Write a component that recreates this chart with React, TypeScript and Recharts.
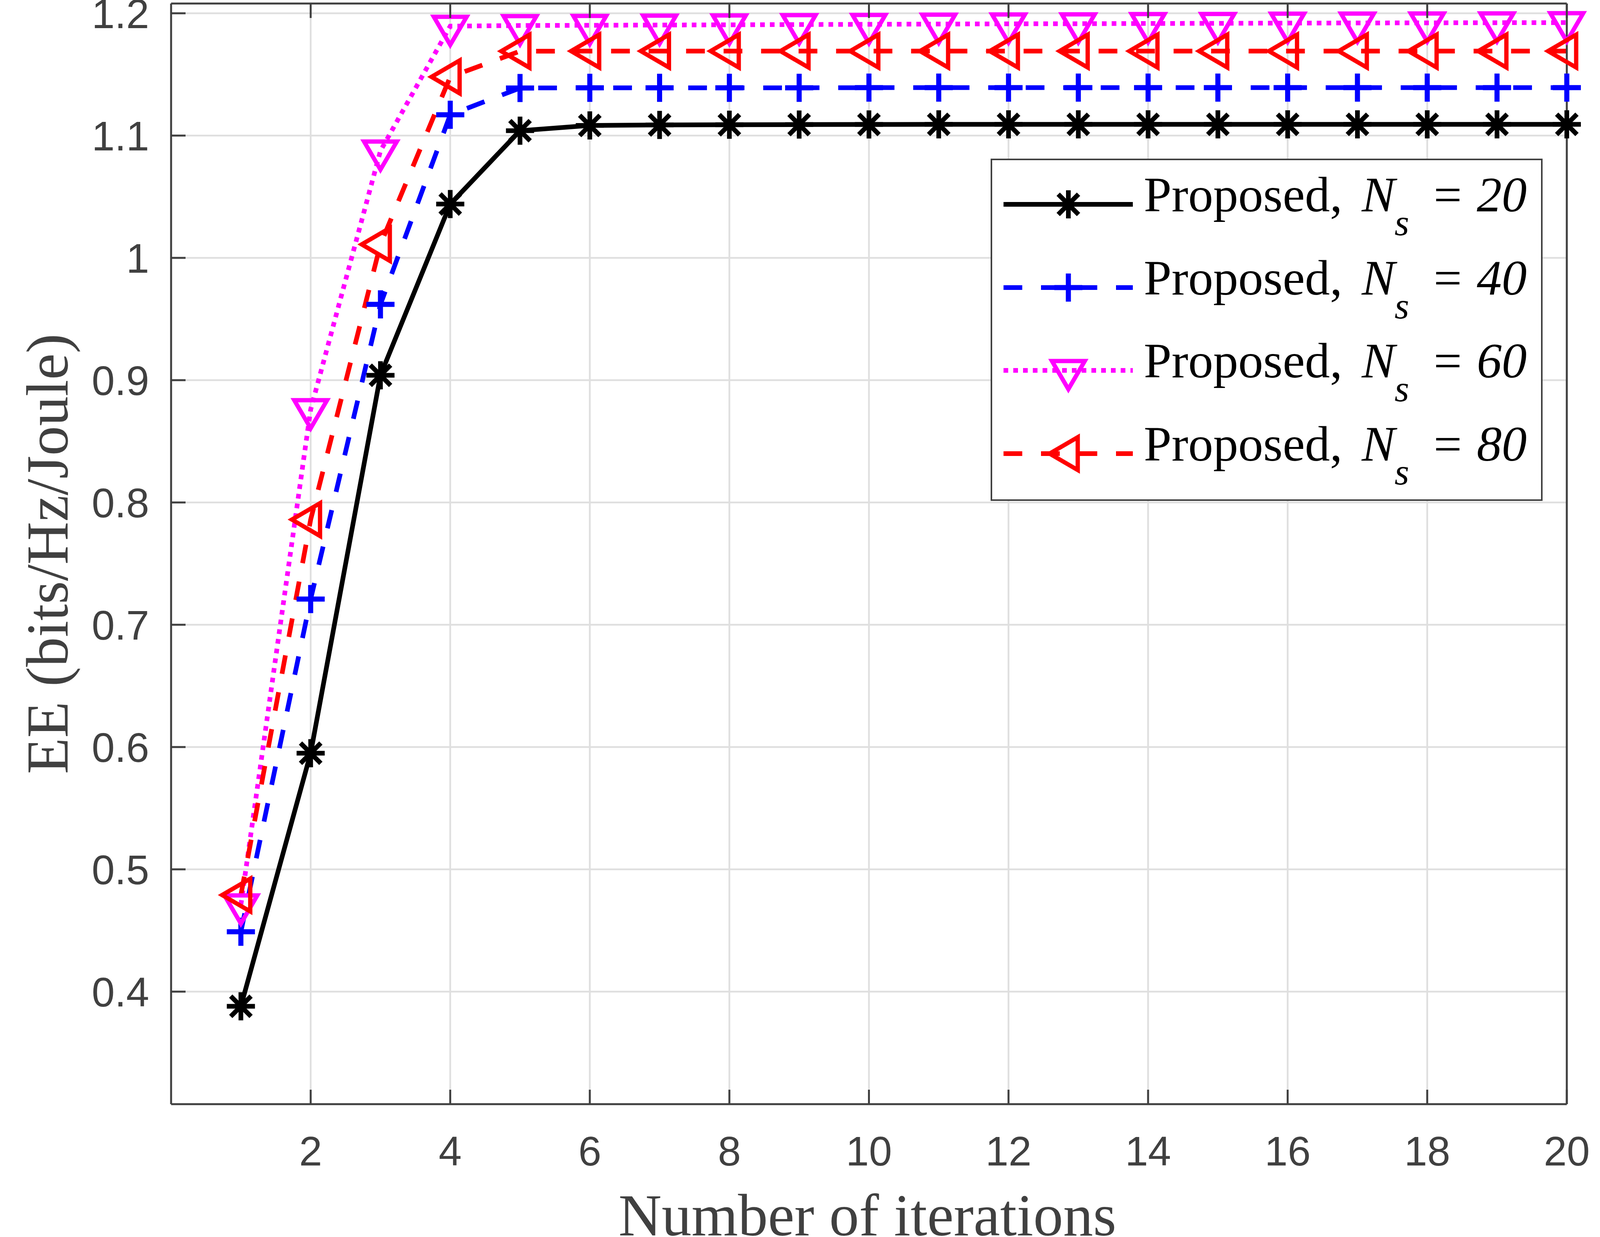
import React from 'react';
import { LineChart, Line, XAxis, YAxis, CartesianGrid, Legend } from 'recharts';

const iterations = [1, 2, 3, 4, 5, 6, 7, 8, 9, 10, 11, 12, 13, 14, 15, 16, 17, 18, 19, 20];
const eeNs20 = [0.388, 0.595, 0.904, 1.044, 1.104, 1.1083, 1.1087, 1.1089, 1.109, 1.1091, 1.1092, 1.1092, 1.1092, 1.1092, 1.1092, 1.1092, 1.1092, 1.1092, 1.1092, 1.1092];
const eeNs40 = [0.449, 0.721, 0.962, 1.117, 1.1389, 1.1391, 1.1391, 1.1391, 1.1391, 1.1392, 1.1392, 1.1392, 1.1392, 1.1392, 1.1392, 1.1392, 1.1392, 1.1392, 1.1392, 1.1392];
const eeNs60 = [0.471, 0.876, 1.0875, 1.1895, 1.19, 1.1902, 1.1904, 1.1906, 1.1908, 1.191, 1.1912, 1.1914, 1.1915, 1.1917, 1.1918, 1.192, 1.1921, 1.1922, 1.1923, 1.1924];
const eeNs80 = [0.479, 0.786, 1.011, 1.148, 1.169, 1.1691, 1.1691, 1.1691, 1.1691, 1.1691, 1.1691, 1.1691, 1.1691, 1.1691, 1.1691, 1.1691, 1.1691, 1.1691, 1.1691, 1.1691];

const xTicks = [2, 4, 6, 8, 10, 12, 14, 16, 18, 20];
const yTicks = [0.4, 0.5, 0.6, 0.7, 0.8, 0.9, 1, 1.1, 1.2];
const nsValues = [20, 40, 60, 80];

const seriesKeys = ['ns20', 'ns40', 'ns60', 'ns80'];
const seriesColors = ['#000000', '#0000FF', '#FF00FF', '#FF0000'];
const seriesDash = [undefined, '48 48', '12 13', '48 48'];
const seriesMarkers = ['asterisk', 'plus', 'triDown', 'triLeft'];

const data = iterations.map((it, i) => ({
  it,
  ns20: eeNs20[i],
  ns40: eeNs40[i],
  ns60: eeNs60[i],
  ns80: eeNs80[i],
}));

const AXIS = '#404040';
const GRID = '#DFDFDF';
const SANS = '"Liberation Sans", Arial, Helvetica, sans-serif';
const SERIF = '"Liberation Serif", "Times New Roman", Times, serif';
const TICK_LEN = 37;

function MarkerShape({ kind, cx, cy, color }: { kind: string; cx: number; cy: number; color: string }) {
  if (kind === 'asterisk') {
    return (
      <g stroke={color} strokeWidth={12} fill="none">
        <line x1={cx} y1={cy - 36} x2={cx} y2={cy + 36} />
        <line x1={cx - 36} y1={cy} x2={cx + 36} y2={cy} />
        <line x1={cx - 26} y1={cy - 26} x2={cx + 26} y2={cy + 26} />
        <line x1={cx - 26} y1={cy + 26} x2={cx + 26} y2={cy - 26} />
      </g>
    );
  }
  if (kind === 'plus') {
    return (
      <g stroke={color} strokeWidth={13} fill="none">
        <line x1={cx} y1={cy - 36} x2={cx} y2={cy + 36} />
        <line x1={cx - 36} y1={cy} x2={cx + 36} y2={cy} />
      </g>
    );
  }
  if (kind === 'triDown') {
    const pts = `${cx - 42},${cy - 24} ${cx + 42},${cy - 24} ${cx},${cy + 48}`;
    return <polygon points={pts} fill="none" stroke={color} strokeWidth={11} strokeLinejoin="miter" />;
  }
  const pts = `${cx - 48},${cy} ${cx + 24},${cy - 42} ${cx + 24},${cy + 42}`;
  return <polygon points={pts} fill="none" stroke={color} strokeWidth={11} strokeLinejoin="miter" />;
}

const makeDot = (kind: string, color: string) => (p: any) => {
  if (p.cx == null || p.cy == null) return <g key={`d-${kind}-${p.index}`} />;
  return (
    <g key={`d-${kind}-${p.index}`}>
      <MarkerShape kind={kind} cx={p.cx} cy={p.cy} color={color} />
    </g>
  );
};

const BottomTick = (p: any) => (
  <g>
    <line x1={p.x} y1={p.y} x2={p.x} y2={p.y - TICK_LEN} stroke={AXIS} strokeWidth={5} />
    <text x={p.x} y={p.y + 157} textAnchor="middle" fontFamily={SANS} fontSize={106} fill={AXIS}>
      {p.payload.value}
    </text>
  </g>
);

const TopTick = (p: any) => (
  <line x1={p.x} y1={p.y} x2={p.x} y2={p.y + TICK_LEN} stroke={AXIS} strokeWidth={5} />
);

const fmtY = (v: number) => String(Number(v.toFixed(1)));

const LeftTick = (p: any) => (
  <g>
    <line x1={p.x} y1={p.y} x2={p.x + TICK_LEN} y2={p.y} stroke={AXIS} strokeWidth={5} />
    <text x={p.x - 56} y={p.y} dy="0.36em" textAnchor="end" fontFamily={SANS} fontSize={106} fill={AXIS}>
      {fmtY(p.payload.value)}
    </text>
  </g>
);

const RightTick = (p: any) => (
  <line x1={p.x} y1={p.y} x2={p.x - TICK_LEN} y2={p.y} stroke={AXIS} strokeWidth={5} />
);

const LEG_W = 1413;
const LEG_H = 876;
const legRowY = [117, 330, 542, 755];

const LegendBox = () => (
  <svg width={LEG_W} height={LEG_H} style={{ display: 'block' }}>
    <rect x={2} y={2} width={LEG_W - 4} height={LEG_H - 4} fill="#FFFFFF" stroke={AXIS} strokeWidth={4} />
    {seriesKeys.map((k, i) => {
      const y = legRowY[i];
      return (
        <g key={k}>
          <line x1={33} y1={y} x2={364} y2={y} stroke={seriesColors[i]} strokeWidth={12} strokeDasharray={seriesDash[i]} />
          <MarkerShape kind={seriesMarkers[i]} cx={199} cy={y} color={seriesColors[i]} />
          <text y={y + 18} fontFamily={SERIF} fontSize={128} fill="#000000">
            <tspan x={392}>Proposed,</tspan>
            <tspan x={950} fontStyle="italic">N</tspan>
            <tspan x={1034} dy={61} fontStyle="italic" fontSize={96}>s</tspan>
            <tspan x={1126} dy={-61} fontStyle="italic">{`= ${nsValues[i]}`}</tspan>
          </text>
        </g>
      );
    })}
  </svg>
);

export default function App() {
  return (
    <div style={{ position: 'absolute', left: 0, top: 0, width: 4117, height: 3166, background: '#FFFFFF' }}>
      <LineChart
        width={4117}
        height={3166}
        data={data}
        margin={{ top: 8, right: 105, bottom: 140, left: 138 }}
      >
        <CartesianGrid stroke={GRID} strokeWidth={4.5} horizontalValues={yTicks} verticalValues={xTicks} />
        <XAxis
          dataKey="it"
          type="number"
          domain={[0, 20]}
          ticks={xTicks}
          height={200}
          tickSize={0}
          tickMargin={0}
          tickLine={false}
          axisLine={{ stroke: AXIS, strokeWidth: 5 }}
          tick={BottomTick}
          interval={0}
          label={{
            value: 'Number of iterations',
            position: 'insideBottom',
            offset: 0,
            content: (props: any) => {
              const vb = props.viewBox || {};
              const cx = (vb.x ?? 0) + (vb.width ?? 0) / 2;
              return (
                <text x={cx - 4} y={3162} textAnchor="middle" fontFamily={SERIF} fontSize={153} fill={AXIS}>
                  Number of iterations
                </text>
              );
            },
          }}
        />
        <XAxis
          xAxisId="top"
          orientation="top"
          dataKey="it"
          type="number"
          domain={[0, 20]}
          ticks={xTicks}
          height={1}
          tickSize={0}
          tickMargin={0}
          tickLine={false}
          axisLine={{ stroke: AXIS, strokeWidth: 5 }}
          tick={TopTick}
          interval={0}
        />
        <YAxis
          type="number"
          domain={[0.308, 1.208]}
          ticks={yTicks}
          width={300}
          tickSize={0}
          tickMargin={0}
          tickLine={false}
          axisLine={{ stroke: AXIS, strokeWidth: 5 }}
          tick={LeftTick}
          interval={0}
          label={{
            value: 'EE (bits/Hz/Joule)',
            content: (props: any) => {
              const vb = props.viewBox || {};
              const cy = (vb.y ?? 0) + (vb.height ?? 0) / 2;
              return (
                <text
                  x={173}
                  y={cy}
                  transform={`rotate(-90 173 ${cy})`}
                  textAnchor="middle"
                  fontFamily={SERIF}
                  fontSize={152}
                  fill={AXIS}
                >
                  EE (bits/Hz/Joule)
                </text>
              );
            },
          }}
        />
        <YAxis
          yAxisId="right"
          orientation="right"
          type="number"
          domain={[0.308, 1.208]}
          ticks={yTicks}
          width={1}
          tickSize={0}
          tickMargin={0}
          tickLine={false}
          axisLine={{ stroke: AXIS, strokeWidth: 5 }}
          tick={RightTick}
          interval={0}
        />
        {seriesKeys.map((k, i) => (
          <Line
            key={k}
            type="linear"
            dataKey={k}
            stroke={seriesColors[i]}
            strokeWidth={12}
            strokeDasharray={seriesDash[i]}
            fill="none"
            dot={makeDot(seriesMarkers[i], seriesColors[i])}
            activeDot={false}
            isAnimationActive={false}
          />
        ))}
        <Legend
          layout="vertical"
          align="center"
          verticalAlign="middle"
          content={LegendBox}
          wrapperStyle={{ position: 'absolute', left: 2536, top: 406, width: LEG_W, height: LEG_H, margin: 0 }}
        />
      </LineChart>
    </div>
  );
}
